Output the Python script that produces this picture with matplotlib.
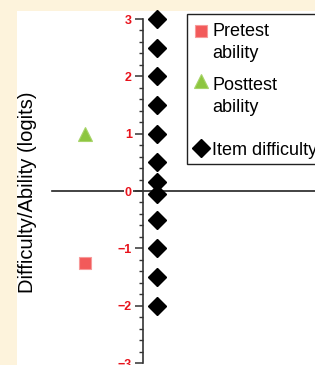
import matplotlib.pyplot as plt
from matplotlib.ticker import MultipleLocator
from matplotlib.lines import Line2D
import matplotlib.patches as patches

plt.rcParams['font.family'] = ['Liberation Sans', 'DejaVu Sans']

# values (logits)
pretest_ability = [-1.25]
posttest_ability = [1.0]
item_difficulty = [3.0, 2.5, 2.0, 1.5, 1.0, 0.5, 0.15, -0.05, -0.5, -1.0, -1.5, -2.0]

W, H = 315, 365
fig = plt.figure(figsize=(W / 100, H / 100), dpi=100)
fig.patch.set_facecolor('#FDF3DC')

def fx(px):
    return px / W

def fy(py):
    return 1 - py / H

# white panel (the original is cropped out of a bigger figure)
fig.add_artist(patches.Rectangle((fx(17), 0), 1, fy(11), transform=fig.transFigure,
                                 facecolor='white', edgecolor='none', zorder=0))

# axes spans pixel 17 .. 415 horizontally, y=3 at px 19, y=-3 at px 363
ax = fig.add_axes([fx(17), 2 / H, 398 / W, 344 / H])
ax.set_facecolor('none')
ax.set_xlim(0, 398)
ax.set_ylim(-3, 3)

spine_x = 126
ability_x = 68
item_x = 140

sq_style = dict(marker='s', ms=8.5, color='#F25A5A', mec='#F79A9A', mew=0.8)
tri_style = dict(marker='^', ms=10, color='#8DC63F', mec='#A8D46A', mew=0.8)
dia_style = dict(marker='D', ms=9.5, color='black')

ax.axhline(0, xmin=35 / 398, xmax=1, color='#222222', lw=1.2, zorder=1)

ax.plot([ability_x] * len(pretest_ability), pretest_ability, ls='none', zorder=3, **sq_style)
ax.plot([ability_x] * len(posttest_ability), posttest_ability, ls='none', zorder=3, **tri_style)
ax.plot([item_x] * len(item_difficulty), item_difficulty, ls='none', clip_on=False,
        zorder=4, **dia_style)

for s in ['top', 'right', 'bottom']:
    ax.spines[s].set_visible(False)
ax.spines['left'].set_position(('data', spine_x))
ax.spines['left'].set_color('#333333')
ax.spines['left'].set_linewidth(1.2)
ax.set_xticks([])
ax.yaxis.set_major_locator(MultipleLocator(1))
ax.yaxis.set_minor_locator(MultipleLocator(0.2))
ax.tick_params(axis='y', which='major', length=6, width=1.1, color='#333333',
               labelcolor='#E8121B', labelsize=9, pad=2)
ax.tick_params(axis='y', which='minor', length=3, width=1.0, color='#333333')
for lab in ax.get_yticklabels():
    lab.set_fontweight('bold')
    lab.set_bbox(dict(facecolor='white', edgecolor='none', pad=1.0))

fig.text(fx(28), fy(192), 'Difficulty/Ability (logits)', rotation=90,
         ha='center', va='center', fontsize=14.5)

# legend box, drawn by hand to match the spacing of the original
fig.add_artist(patches.Rectangle((fx(187), fy(164)), fx(200), fy(14) - fy(164),
                                 transform=fig.transFigure, facecolor='white',
                                 edgecolor='#222222', lw=1.0, zorder=5))
entries = [
    (sq_style, 31, ['Pretest', 'ability'], 36),
    (tri_style, 81, ['Posttest', 'ability'], 90),
    (dia_style, 148, ['Item difficulty'], 155),
]
for style, my, lines, base in entries:
    fig.add_artist(Line2D([fx(201)], [fy(my)], transform=fig.transFigure, ls='none',
                          zorder=6, **style))
    for i, t in enumerate(lines):
        fig.text(fx(212), fy(base + 22 * i), t, ha='left', va='baseline',
                 fontsize=13, zorder=6)

fig.savefig('out.png', dpi=100, facecolor=fig.get_facecolor())
